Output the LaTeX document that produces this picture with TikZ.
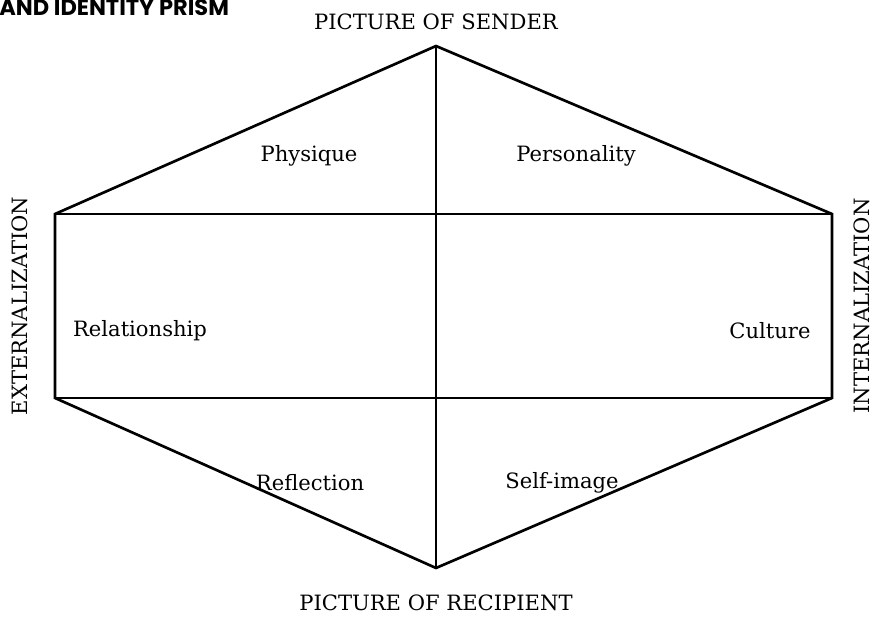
\documentclass[tikz,border=0pt]{standalone}
\usepackage{fontspec}
\setmainfont{DejaVu Serif}
\newfontfamily\titlefont{Poppins}
\usepackage{tikz}
\tikzset{prism/.style={line width=1.9pt, line join=miter},
         lbl/.style={font=\fontsize{15}{18}\selectfont, inner sep=0pt}}

\begin{document}
\begin{tikzpicture}[x=0.025cm, y=-0.025cm]
\useasboundingbox (0,0) rectangle (873,629);
\coordinate (top) at (436,46);
\coordinate (bot) at (436,568);
\coordinate (tl) at (55,214);
\coordinate (tr) at (832,214);
\coordinate (bl) at (55,398);
\coordinate (br) at (832,398);

\draw [prism] (top) -- (tr) -- (br) -- (bot) -- (bl) -- (tl) -- cycle;
\draw [prism] (tl) -- (tr);
\draw [prism] (bl) -- (br);
\draw [prism] (top) -- (bot);

\node [anchor=north west, inner sep=0pt, font=\titlefont\bfseries\fontsize{16}{18}\selectfont] (title) at (-1,-1) {AND IDENTITY PRISM};
\node [lbl] (sender) at (436,22) {PICTURE OF SENDER};
\node [lbl] (recipient) at (436,603) {PICTURE OF RECIPIENT};
\node [lbl, rotate=90] (ext) at (20,306) {EXTERNALIZATION};
\node [lbl, rotate=90] (int) at (862,306) {INTERNALIZATION};

\node [lbl] (physique) at (309,156) {Physique};
\node [lbl] (personality) at (576,156) {Personality};
\node [lbl] (relationship) at (140,331) {Relationship};
\node [lbl] (culture) at (770,331) {Culture};
\node [lbl] (reflection) at (310,483) {Reflection};
\node [lbl] (selfimage) at (562,483) {Self-image};
\end{tikzpicture}
\end{document}
